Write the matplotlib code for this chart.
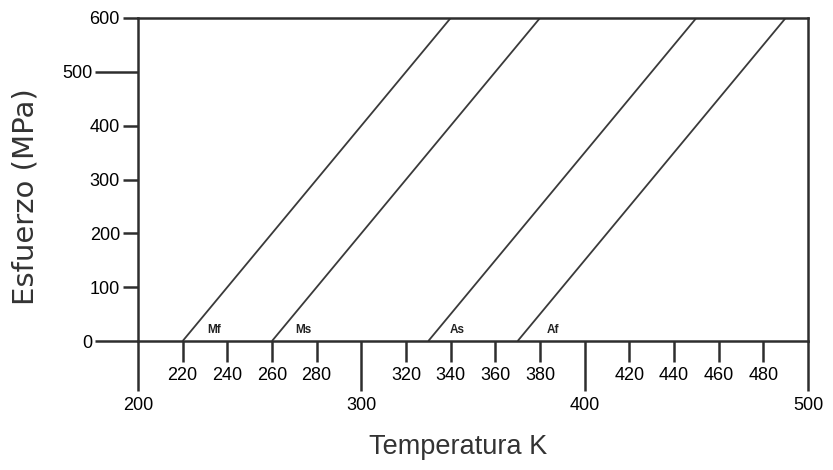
import matplotlib
matplotlib.use("Agg")
import matplotlib.pyplot as plt
from matplotlib.ticker import FixedLocator, FixedFormatter

# Data
names = ["Mf", "Ms", "As", "Af"]
t_start = [220, 260, 330, 370]      # temperature at 0 MPa
t_end = [340, 380, 450, 490]        # temperature at 600 MPa
stress = [0, 600]
label_pos_x = [234, 274, 343, 386]
label_pos_y = [10, 10, 10, 10]

x_major = [200, 300, 400, 500]
x_minor = [220, 240, 260, 280, 320, 340, 360, 380, 420, 440, 460, 480]
y_major = [0, 500]
y_minor = [100, 200, 300, 400, 600]

plt.rcParams['font.family'] = ['Liberation Sans', 'DejaVu Sans']

fig = plt.figure(figsize=(8.33, 4.70), dpi=100)
ax = fig.add_axes([138/833, 1 - 341/470, (808-138)/833, (341-18)/470])

lc = "#2e2e2e"
for n, a, b, lx, ly in zip(names, t_start, t_end, label_pos_x, label_pos_y):
    ax.plot([a, b], stress, color="#3a3a3a", lw=1.3, solid_capstyle="butt")
    ax.text(lx, ly, n, fontsize=8.5, fontweight="bold", ha="center", va="bottom", color="#222222")

ax.set_xlim(200, 500)
ax.set_ylim(0, 600)

for s in ax.spines.values():
    s.set_linewidth(1.8)
    s.set_color(lc)

ax.xaxis.set_major_locator(FixedLocator(x_major))
ax.xaxis.set_minor_locator(FixedLocator(x_minor))
ax.xaxis.set_major_formatter(FixedFormatter([str(v) for v in x_major]))
ax.xaxis.set_minor_formatter(FixedFormatter([str(v) for v in x_minor]))
ax.yaxis.set_major_locator(FixedLocator(y_major))
ax.yaxis.set_minor_locator(FixedLocator(y_minor))
ax.yaxis.set_major_formatter(FixedFormatter([str(v) for v in y_major]))
ax.yaxis.set_minor_formatter(FixedFormatter([str(v) for v in y_minor]))

tick_kw = dict(direction="out", width=1.8, color=lc, labelsize=13, labelcolor="#000000")
ax.tick_params(axis="x", which="major", length=36, pad=4, **tick_kw)
ax.tick_params(axis="x", which="minor", length=15, pad=4, **tick_kw)
ax.tick_params(axis="y", which="major", length=31, pad=2, **tick_kw)
ax.tick_params(axis="y", which="minor", length=11, pad=2, **tick_kw)
for lab in ax.get_xticklabels(which="both") + ax.get_yticklabels(which="both"):
    lab.set_fontweight("medium")

ax.set_xlabel("Temperatura K", fontsize=19.5, color="#333333",
              family=["Liberation Sans", "DejaVu Sans"])
ax.set_ylabel("Esfuerzo (MPa)", fontsize=21, color="#333333",
              family=["DejaVu Sans"])
ax.xaxis.set_label_coords((458-138)/670, -(434-341)/323)
ax.yaxis.set_label_coords(-(138-40)/670, (341-197)/323)

fig.savefig("out.png", dpi=100, facecolor="white")
